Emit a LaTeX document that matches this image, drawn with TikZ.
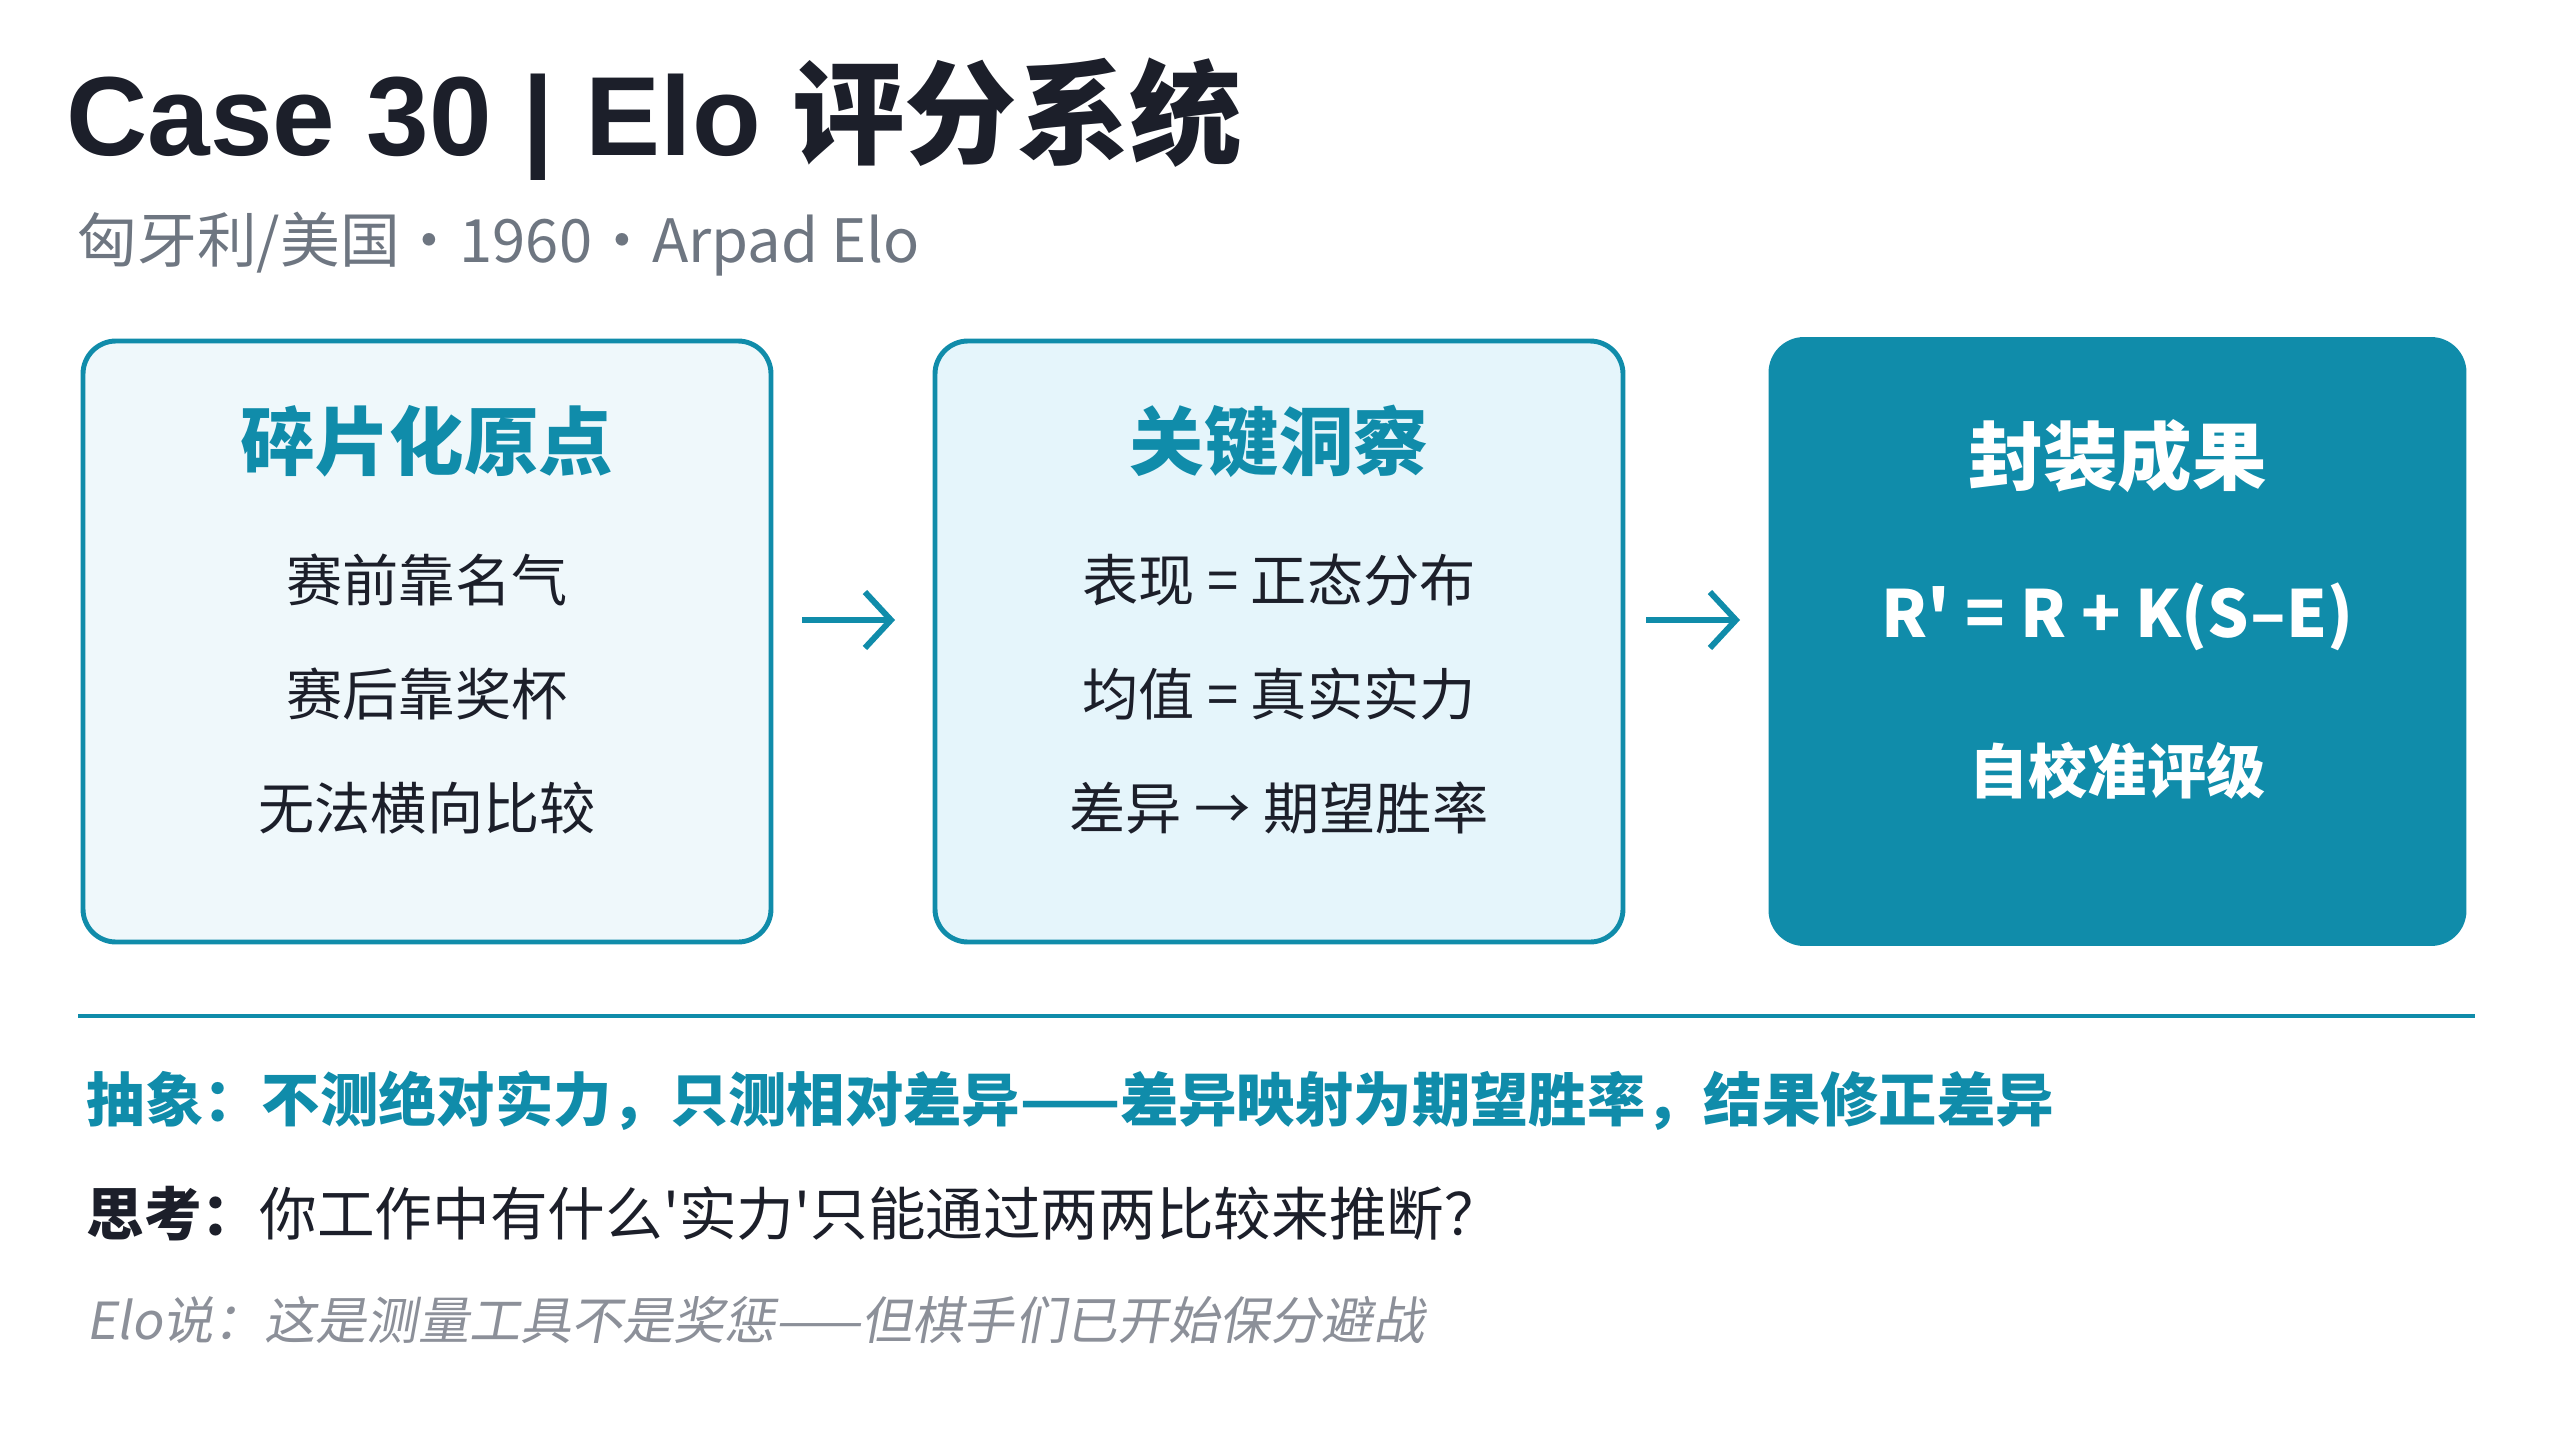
\documentclass[tikz,border=0pt]{standalone}
\usepackage{fontspec}
\setmainfont{Noto Sans CJK SC}[Ligatures=TeXOff]
\newfontfamily\titlefont{Liberation Sans}
\newfontfamily\slantfont{Noto Sans CJK SC}[FakeSlant=0.18, Ligatures=TeXOff]
\usepackage{tikz}
\usetikzlibrary{arrows.meta, positioning}

\definecolor{accent}{HTML}{108CAA}
\definecolor{ink}{HTML}{1C1F2A}
\definecolor{muted}{HTML}{6E7681}
\definecolor{softgray}{HTML}{8C9099}
\definecolor{paleA}{HTML}{EFF8FB}
\definecolor{paleB}{HTML}{E5F5FB}

\begin{document}
\begin{tikzpicture}[
    panel/.style={rectangle, rounded corners=0.33cm, minimum width=6.88cm, minimum height=6.01cm, outer sep=0pt, draw=accent, line width=1.4pt},
    paneltitle/.style={font=\fontsize{21.2}{25}\selectfont\bfseries, text=accent},
    item/.style={font=\fontsize{16}{20}\selectfont, text=ink},
    textline/.style={anchor=base west, inner sep=0pt},
    arrow/.style={line width=1.7pt, draw=accent, -{Straight Barb[length=0.26cm, width=0.56cm]}}
]
\useasboundingbox (0,0) rectangle (25.6,-14.4);
\fill[white] (0,0) rectangle (25.6,-14.4);

% Header
\node (title) [textline, text=ink] at (0.66,-1.55) {\fontsize{32}{38}\selectfont\titlefont\bfseries Case 30 | Elo \normalfont\bfseries 评分系统};
\node (origin) [textline, text=muted, font=\fontsize{17}{20}\selectfont] at (0.77,-2.62) {匈牙利/美国・1960・Arpad Elo};

% Panels
\node (frag) [panel, fill=paleA] at (4.27,-6.415) {};
\node (insight) [panel, fill=paleB, right=1.64cm of frag] {};
\node (result) [panel, fill=accent, minimum width=6.93cm, minimum height=6.04cm, right=1.48cm of insight] {};

% Panel texts
\node (fragtitle) [paneltitle] at ([yshift=-1.0cm]frag.north) {碎片化原点};
\node (frag1) [item] at ([yshift=-2.39cm]frag.north) {赛前靠名气};
\node (frag2) [item] at ([yshift=-3.53cm]frag.north) {赛后靠奖杯};
\node (frag3) [item] at ([yshift=-4.67cm]frag.north) {无法横向比较};

\node (insighttitle) [paneltitle] at ([yshift=-1.0cm]insight.north) {关键洞察};
\node (insight1) [item] at ([yshift=-2.39cm]insight.north) {表现 = 正态分布};
\node (insight2) [item] at ([yshift=-3.53cm]insight.north) {均值 = 真实实力};
\node (insight3) [item] at ([yshift=-4.67cm]insight.north) {差异 → 期望胜率};

\node (resulttitle) [paneltitle, text=white] at ([yshift=-1.17cm]result.north) {封装成果};
\node (formula) [item, text=white, font=\fontsize{18.5}{22}\selectfont\bfseries] at ([yshift=-2.77cm]result.north) {R' = R + K(S–E)};
\node (resultsub) [item, text=white, font=\fontsize{16.8}{20}\selectfont\bfseries] at ([yshift=-4.31cm]result.north) {自校准评级};

% Arrows
\draw [arrow, shorten <=0.31cm, shorten >=0.40cm] ([yshift=0.215cm]frag.east) -- ([yshift=0.215cm]insight.west);
\draw [arrow, shorten <=0.23cm, shorten >=0.31cm] ([yshift=0.215cm]insight.east) -- ([yshift=0.215cm]result.west);

% Footer
\coordinate (ruleL) at (0.78,-10.16);
\coordinate (ruleR) at (24.75,-10.16);
\draw [accent, line width=1.4pt] (ruleL) -- (ruleR);

\node (abstract) [textline, text=accent, font=\fontsize{16.6}{20}\selectfont\bfseries] at (0.86,-11.21) {抽象：不测绝对实力，只测相对差异——差异映射为期望胜率，结果修正差异};
\node (think) [textline, text=ink, font=\fontsize{16.4}{20}\selectfont] at (0.86,-12.35) {\textbf{思考：}你工作中有什么'实力'只能通过两两比较来推断？};
\node (elo) [textline, text=softgray, font=\fontsize{14.55}{18}\selectfont\slantfont] at (0.86,-13.39) {Elo说：这是测量工具不是奖惩——但棋手们已开始保分避战};

\end{tikzpicture}
\end{document}
